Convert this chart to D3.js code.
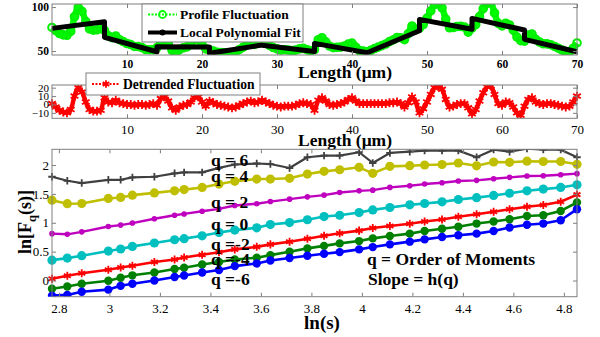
<!DOCTYPE html>
<html><head><meta charset="utf-8">
<script src="https://cdn.jsdelivr.net/npm/d3@7/dist/d3.min.js"></script>
<style>
html,body{margin:0;padding:0;background:#fff;}
svg{display:block;}
text{font-family:"Liberation Serif","Times New Roman",serif;fill:#000;}
</style></head><body>
<svg id="chart" width="600" height="337"></svg>
<script>
// ---------------- data ----------------
const lengthPos = [0,0.5,1,1.5,2,2.5,3,3.5,4,4.5,5,5.5,6,6.5,7,7.5,8,8.5,9,9.5,10,10.5,11,11.5,12,12.5,13,13.5,14,14.5,15,15.5,16,16.5,17,17.5,18,18.5,19,19.5,20,20.5,21,21.5,22,22.5,23,23.5,24,24.5,25,25.5,26,26.5,27,27.5,28,28.5,29,29.5,30,30.5,31,31.5,32,32.5,33,33.5,34,34.5,35,35.5,36,36.5,37,37.5,38,38.5,39,39.5,40,40.5,41,41.5,42,42.5,43,43.5,44,44.5,45,45.5,46,46.5,47,47.5,48,48.5,49,49.5,50,50.5,51,51.5,52,52.5,53,53.5,54,54.5,55,55.5,56,56.5,57,57.5,58,58.5,59,59.5,60,60.5,61,61.5,62,62.5,63,63.5,64,64.5,65,65.5,66,66.5,67,67.5,68,68.5,69,69.5,70];
const profileFluct = [76.8,73.3,69.9,68.4,67.9,72.5,89.0,99.5,95.1,83.6,75.2,73.7,74.2,75.8,73.6,67.4,65.3,67.1,62.9,60.7,58.6,57.4,55.2,55.1,53.9,51.7,51.5,51.4,53.9,61.9,63.8,58.8,50.8,47.8,51.7,53.7,54.7,57.6,62.6,63.6,57.6,52.5,51.4,50.1,48.7,48.4,48.1,47.8,47.4,49.1,51.8,54.4,57.1,58.8,57.5,59.1,61.5,59.0,56.5,54.0,52.5,51.0,51.5,51.0,50.5,51.0,52.5,53.0,51.5,50.0,51.7,62.9,65.2,60.4,55.7,53.9,54.2,54.4,55.6,57.9,59.1,54.4,50.6,49.9,49.1,50.9,52.7,54.5,56.2,58.0,60.8,62.6,65.4,65.2,63.0,69.7,78.5,74.3,76.0,80.2,87.4,95.6,102.8,104.0,99.2,86.4,76.5,76.7,77.9,78.1,77.3,71.5,76.1,80.2,89.2,98.3,104.3,104.4,93.4,81.5,78.6,81.6,79.7,73.7,65.8,61.8,61.3,68.3,69.3,63.3,60.3,58.3,58.2,57.2,55.2,53.2,51.2,49.2,49.2,53.2,59.2];
const detrendedFluct = [1,-3,-7,-9,-10,-6,10,20,15,3,-6,-8,-8,-7,8,3,2,5,2,1,0,0,-1,0,0,-1,0,1,-1,7,9,4,-4,-7,-3,-1,0,3,8,9,3,-2,4,2,0,-1,-2,-3,-4,-3,-1,1,3,4,2,3,5,3,1,-1,-2,-3,-2,-2,-2,-1,1,2,1,0,-7,5,8,4,0,-1,0,1,3,6,8,4,1,1,1,1,1,1,1,1,2,2,3,1,-3,2,9,3,-10,-5,3,12,20,22,18,6,-3,-2,0,1,1,-4,-11,-6,4,14,21,22,12,1,-1,3,2,-3,-10,-13,-2,6,8,3,1,0,1,1,0,-1,-2,-3,-2,3,10];
const fitX = [0,7,7,14,14,21,21,28,28,35,35,42,42,49,49,56,56,63,63,70];
const fitY = [75.8,83.3,65.6,49.2,54.9,54.5,47.4,56.8,56.5,49.5,58.7,48.1,48.1,73.1,86.0,74.7,87.1,73.9,63.3,49.2];

const scaleS = [16,17,18,20,21,22,24,26,27,29,31,33,36,38,41,44,47,50,54,57,61,66,70,75,80,86,92,98,105,112,120,128];
const qOrders = ["q = 6","q = 4","q = 2","q = 0","q =-2","q =-4","q =-6"];
const lnFq_p6 = [1.797,1.727,1.687,1.744,1.744,1.786,1.797,1.856,1.873,1.873,1.950,2.009,2.026,2.017,1.948,2.134,2.162,2.162,2.221,2.035,2.209,2.231,2.249,2.249,2.249,2.134,2.266,2.231,2.285,2.266,2.266,2.134];
const lnFq_p4 = [1.391,1.330,1.334,1.421,1.438,1.478,1.517,1.553,1.574,1.612,1.670,1.718,1.757,1.757,1.770,1.843,1.890,1.918,1.960,1.856,1.977,1.988,2.000,2.009,2.035,1.986,2.052,2.047,2.066,2.061,2.061,2.012];
const lnFq_p2 = [0.812,0.800,0.843,0.936,0.960,0.995,1.070,1.130,1.153,1.200,1.240,1.299,1.329,1.367,1.409,1.449,1.478,1.525,1.553,1.565,1.612,1.640,1.670,1.692,1.722,1.734,1.762,1.786,1.809,1.814,1.831,1.850];
const lnFq_0  = [0.353,0.388,0.430,0.510,0.546,0.591,0.650,0.706,0.725,0.774,0.830,0.873,0.913,0.969,1.003,1.052,1.108,1.130,1.177,1.223,1.264,1.310,1.334,1.362,1.403,1.435,1.473,1.511,1.553,1.583,1.612,1.657];
const lnFq_m2 = [0.030,0.082,0.127,0.186,0.226,0.257,0.322,0.365,0.400,0.447,0.490,0.539,0.583,0.626,0.670,0.722,0.774,0.817,0.864,0.910,0.944,0.983,1.023,1.056,1.104,1.148,1.191,1.235,1.278,1.308,1.365,1.487];
const lnFq_m4 = [-0.143,-0.104,-0.056,-0.005,0.047,0.090,0.139,0.200,0.221,0.278,0.322,0.365,0.395,0.440,0.499,0.557,0.600,0.643,0.683,0.730,0.770,0.812,0.857,0.896,0.930,0.986,1.021,1.061,1.118,1.130,1.205,1.351];
const lnFq_m6 = [-0.261,-0.249,-0.195,-0.157,-0.092,-0.056,0.000,0.061,0.087,0.139,0.183,0.249,0.296,0.348,0.391,0.430,0.464,0.492,0.539,0.579,0.626,0.673,0.713,0.753,0.783,0.812,0.857,0.917,0.965,0.986,1.043,1.235];

const lengthTicks = [10,20,30,40,50,60,70];
const profileTicks = [50,100];
const detrendTicks = [-10,0,10,20];
const lnSTicks = [2.8,3,3.2,3.4,3.6,3.8,4,4.2,4.4,4.6,4.8];
const lnFTicks = [0,0.5,1,1.5,2];

// ---------------- drawing ----------------
const svg = d3.select("#chart");
const L = 52, R = 577, AX = "#7f7f7f", FONT = "Liberation Serif, Times New Roman, serif";

function axes(x, y, o) {
  const [yb, yt] = y.range();
  const g = svg.append("g");
  const style = (sel, fs, fw) => {
    sel.attr("font-family", FONT);
    sel.select(".domain").remove();
    sel.selectAll(".tick line").attr("stroke", AX);
    sel.selectAll(".tick text").attr("font-size", fs).attr("font-weight", fw).attr("fill", "#000");
  };
  g.append("g").attr("transform", `translate(0,${yb})`)
    .call(d3.axisBottom(x).tickValues(o.xt).tickSize(-4).tickPadding(o.xpad).tickFormat(d3.format("")))
    .call(s => style(s, o.xfs, o.xfw));
  g.append("g").attr("transform", `translate(0,${yt})`)
    .call(d3.axisTop(x).tickValues(o.xt).tickSize(-4).tickFormat(""))
    .call(s => style(s, 0, "normal"));
  g.append("g").attr("transform", `translate(${L},0)`)
    .call(d3.axisLeft(y).tickValues(o.yt).tickSize(-4).tickPadding(3).tickFormat(d3.format("")))
    .call(s => style(s, o.yfs, o.yfw));
  g.append("g").attr("transform", `translate(${R},0)`)
    .call(d3.axisRight(y).tickValues(o.yt).tickSize(-4).tickFormat(""))
    .call(s => style(s, 0, "normal"));
  g.append("rect").attr("x", L).attr("y", yt).attr("width", R - L).attr("height", yb - yt)
    .attr("fill", "none").attr("stroke", AX).attr("stroke-width", 1);
}
function clip(id, y) {
  const [yb, yt] = y.range();
  svg.append("clipPath").attr("id", id).append("rect")
    .attr("x", L - 6).attr("y", yt).attr("width", R - L + 12).attr("height", yb - yt);
}

// ---- panel 1: profile ----
const x1 = d3.scaleLinear().domain([0, 70]).range([L, R]);
const y1 = d3.scaleLinear().domain([45.5, 103.5]).range([55, 4]);
clip("c1", y1);
const p1 = svg.append("g").attr("clip-path", "url(#c1)");
const prof = lengthPos.map((v, i) => [v, profileFluct[i]]);
p1.append("path").datum(prof)
  .attr("d", d3.line().x(d => x1(d[0])).y(d => y1(d[1])).curve(d3.curveCatmullRom))
  .attr("fill", "none").attr("stroke", "#00ff00").attr("stroke-width", 6.5).attr("stroke-linejoin", "round");
p1.selectAll("circle.pf").data(prof).join("circle").attr("class", "pf")
  .attr("cx", d => x1(d[0])).attr("cy", d => y1(d[1])).attr("r", 3.8)
  .attr("fill", "none").attr("stroke", "#00ee00").attr("stroke-width", 2);
const fit = fitX.map((v, i) => [v, fitY[i]]);
p1.append("path").datum(fit)
  .attr("d", d3.line().x(d => x1(d[0])).y(d => y1(d[1])))
  .attr("fill", "none").attr("stroke", "#000").attr("stroke-width", 5).attr("stroke-linejoin", "round");
axes(x1, y1, {xt: lengthTicks, yt: profileTicks, xpad: 4.5, xfs: 11.5, xfw: "bold", yfs: 11.5, yfw: "bold"});
svg.append("text").attr("x", 345).attr("y", 78).attr("text-anchor", "middle")
  .attr("font-size", 17.5).attr("font-weight", "bold").text("Length (μm)");
// legend 1
const lg1 = svg.append("g");
lg1.append("rect").attr("x", 142).attr("y", 4).attr("width", 161).attr("height", 38)
  .attr("fill", "#fff").attr("stroke", AX);
lg1.append("line").attr("x1", 148).attr("x2", 177).attr("y1", 14.5).attr("y2", 14.5)
  .attr("stroke", "#00ff00").attr("stroke-width", 2).attr("stroke-dasharray", "2,1.5");
lg1.append("circle").attr("cx", 162.5).attr("cy", 14.5).attr("r", 3.5).attr("fill", "none")
  .attr("stroke", "#00ff00").attr("stroke-width", 1.8);
lg1.append("text").attr("x", 180).attr("y", 19).attr("font-size", 13.5).attr("font-weight", "bold").text("Profile Fluctuation");
lg1.append("line").attr("x1", 148).attr("x2", 177).attr("y1", 32.5).attr("y2", 32.5)
  .attr("stroke", "#000").attr("stroke-width", 4);
lg1.append("circle").attr("cx", 162.5).attr("cy", 32.5).attr("r", 3).attr("fill", "#000");
lg1.append("text").attr("x", 180).attr("y", 37).attr("font-size", 13.5).attr("font-weight", "bold").text("Local Polynomial Fit");

// ---- panel 2: detrended ----
const y2 = d3.scaleLinear().domain([-16.5, 23.2]).range([118.3, 85]);
clip("c2", y2);
const p2 = svg.append("g").attr("clip-path", "url(#c2)");
const det = lengthPos.map((v, i) => [v, detrendedFluct[i]]);
p2.append("path").datum(det)
  .attr("d", d3.line().x(d => x1(d[0])).y(d => y2(d[1])).curve(d3.curveCatmullRom))
  .attr("fill", "none").attr("stroke", "#ff0000").attr("stroke-width", 4.5).attr("stroke-linejoin", "round");
const astPath = d3.symbol().type(d3.symbolAsterisk).size(55)();
p2.selectAll("path.dm").data(det).join("path").attr("class", "dm")
  .attr("transform", d => `translate(${x1(d[0])},${y2(d[1])})`).attr("d", astPath)
  .attr("fill", "none").attr("stroke", "#ff0000").attr("stroke-width", 1.8);
axes(x1, y2, {xt: lengthTicks, yt: detrendTicks, xpad: 6.5, xfs: 13, xfw: "normal", yfs: 11, yfw: "normal"});
svg.append("text").attr("x", 345).attr("y", 146).attr("text-anchor", "middle")
  .attr("font-size", 17.5).attr("font-weight", "bold").text("Length (μm)");
const lg2 = svg.append("g");
lg2.append("rect").attr("x", 86).attr("y", 73).attr("width", 174).attr("height", 22)
  .attr("fill", "#fff").attr("stroke", AX);
lg2.append("line").attr("x1", 92).attr("x2", 120).attr("y1", 84).attr("y2", 84)
  .attr("stroke", "#ff0000").attr("stroke-width", 2).attr("stroke-dasharray", "2,1.5");
lg2.append("path").attr("transform", "translate(106,84)").attr("d", d3.symbol().type(d3.symbolAsterisk).size(40)())
  .attr("fill", "none").attr("stroke", "#ff0000").attr("stroke-width", 1.8);
lg2.append("text").attr("x", 123).attr("y", 89).attr("font-size", 13.6).attr("font-weight", "bold").text("Detrended Fluctuation");

// ---- panel 3: ln Fq vs ln s ----
const lnS = scaleS.map(s => Math.log(s));
const x3 = d3.scaleLinear().domain([lnS[0], lnS[lnS.length - 1]]).range([L, R]);
const y3 = d3.scaleLinear().domain([-0.28, 2.272]).range([296.7, 149.3]);
clip("c3", y3);
const series = [
  {vals: lnFq_p6, color: "#404040", mk: "star", r: 20, w: 2.2},
  {vals: lnFq_p4, color: "#bfbf00", mk: "circle", r: 4.6, w: 2.6},
  {vals: lnFq_p2, color: "#bf00bf", mk: "dot", r: 2.8, w: 2.4},
  {vals: lnFq_0,  color: "#00bfbf", mk: "circle", r: 4.6, w: 2.6},
  {vals: lnFq_m2, color: "#ff0000", mk: "ast", r: 45, w: 2.6},
  {vals: lnFq_m4, color: "#008000", mk: "circle", r: 4.2, w: 2.6},
  {vals: lnFq_m6, color: "#0000ff", mk: "circle", r: 4.2, w: 2.6}
];
const p3 = svg.append("g").attr("clip-path", "url(#c3)");
const line3 = d3.line().x(d => x3(d[0])).y(d => y3(d[1]));
series.forEach(s => {
  const pts = lnS.map((v, i) => [v, s.vals[i]]);
  const g = p3.append("g");
  g.append("path").datum(pts).attr("d", line3).attr("fill", "none")
    .attr("stroke", s.color).attr("stroke-width", s.w).attr("stroke-linejoin", "round");
  if (s.mk === "circle" || s.mk === "dot") {
    g.selectAll("circle").data(pts).join("circle")
      .attr("cx", d => x3(d[0])).attr("cy", d => y3(d[1])).attr("r", s.r).attr("fill", s.color);
  } else {
    const pth = d3.symbol().type(s.mk === "ast" ? d3.symbolAsterisk : d3.symbolPlus).size(s.r)();
    g.selectAll("path.m").data(pts).join("path").attr("class", "m")
      .attr("transform", d => `translate(${x3(d[0])},${y3(d[1])})`).attr("d", pth)
      .attr("fill", s.mk === "ast" ? "none" : s.color).attr("stroke", s.color).attr("stroke-width", 1.8);
  }
});
axes(x3, y3, {xt: lnSTicks, yt: lnFTicks, xpad: 7, xfs: 13, xfw: "normal", yfs: 13, yfw: "normal"});
const qLabelBase = [165.5, 181.5, 208, 230, 250, 265, 285];
qOrders.forEach((t, i) => {
  svg.append("text").attr("x", 211).attr("y", qLabelBase[i]).attr("font-size", 17.5)
    .attr("font-weight", "bold").text(t);
});
svg.append("text").attr("x", 367).attr("y", 265).attr("font-size", 17.5).attr("font-weight", "bold").text("q = Order of Moments");
svg.append("text").attr("x", 368).attr("y", 285).attr("font-size", 17.5).attr("font-weight", "bold").text("Slope = h(q)");
svg.append("text").attr("x", 322).attr("y", 329).attr("text-anchor", "middle")
  .attr("font-size", 19).attr("font-weight", "bold").text("ln(s)");
const yl = svg.append("text").attr("transform", "translate(31,222) rotate(-90)")
  .attr("text-anchor", "middle").attr("font-size", 18).attr("font-weight", "bold");
yl.append("tspan").text("ln[F");
yl.append("tspan").attr("dy", 5).attr("font-size", 12.5).text("q");
yl.append("tspan").attr("dy", -5).text("(s)]");
</script>
</body></html>
